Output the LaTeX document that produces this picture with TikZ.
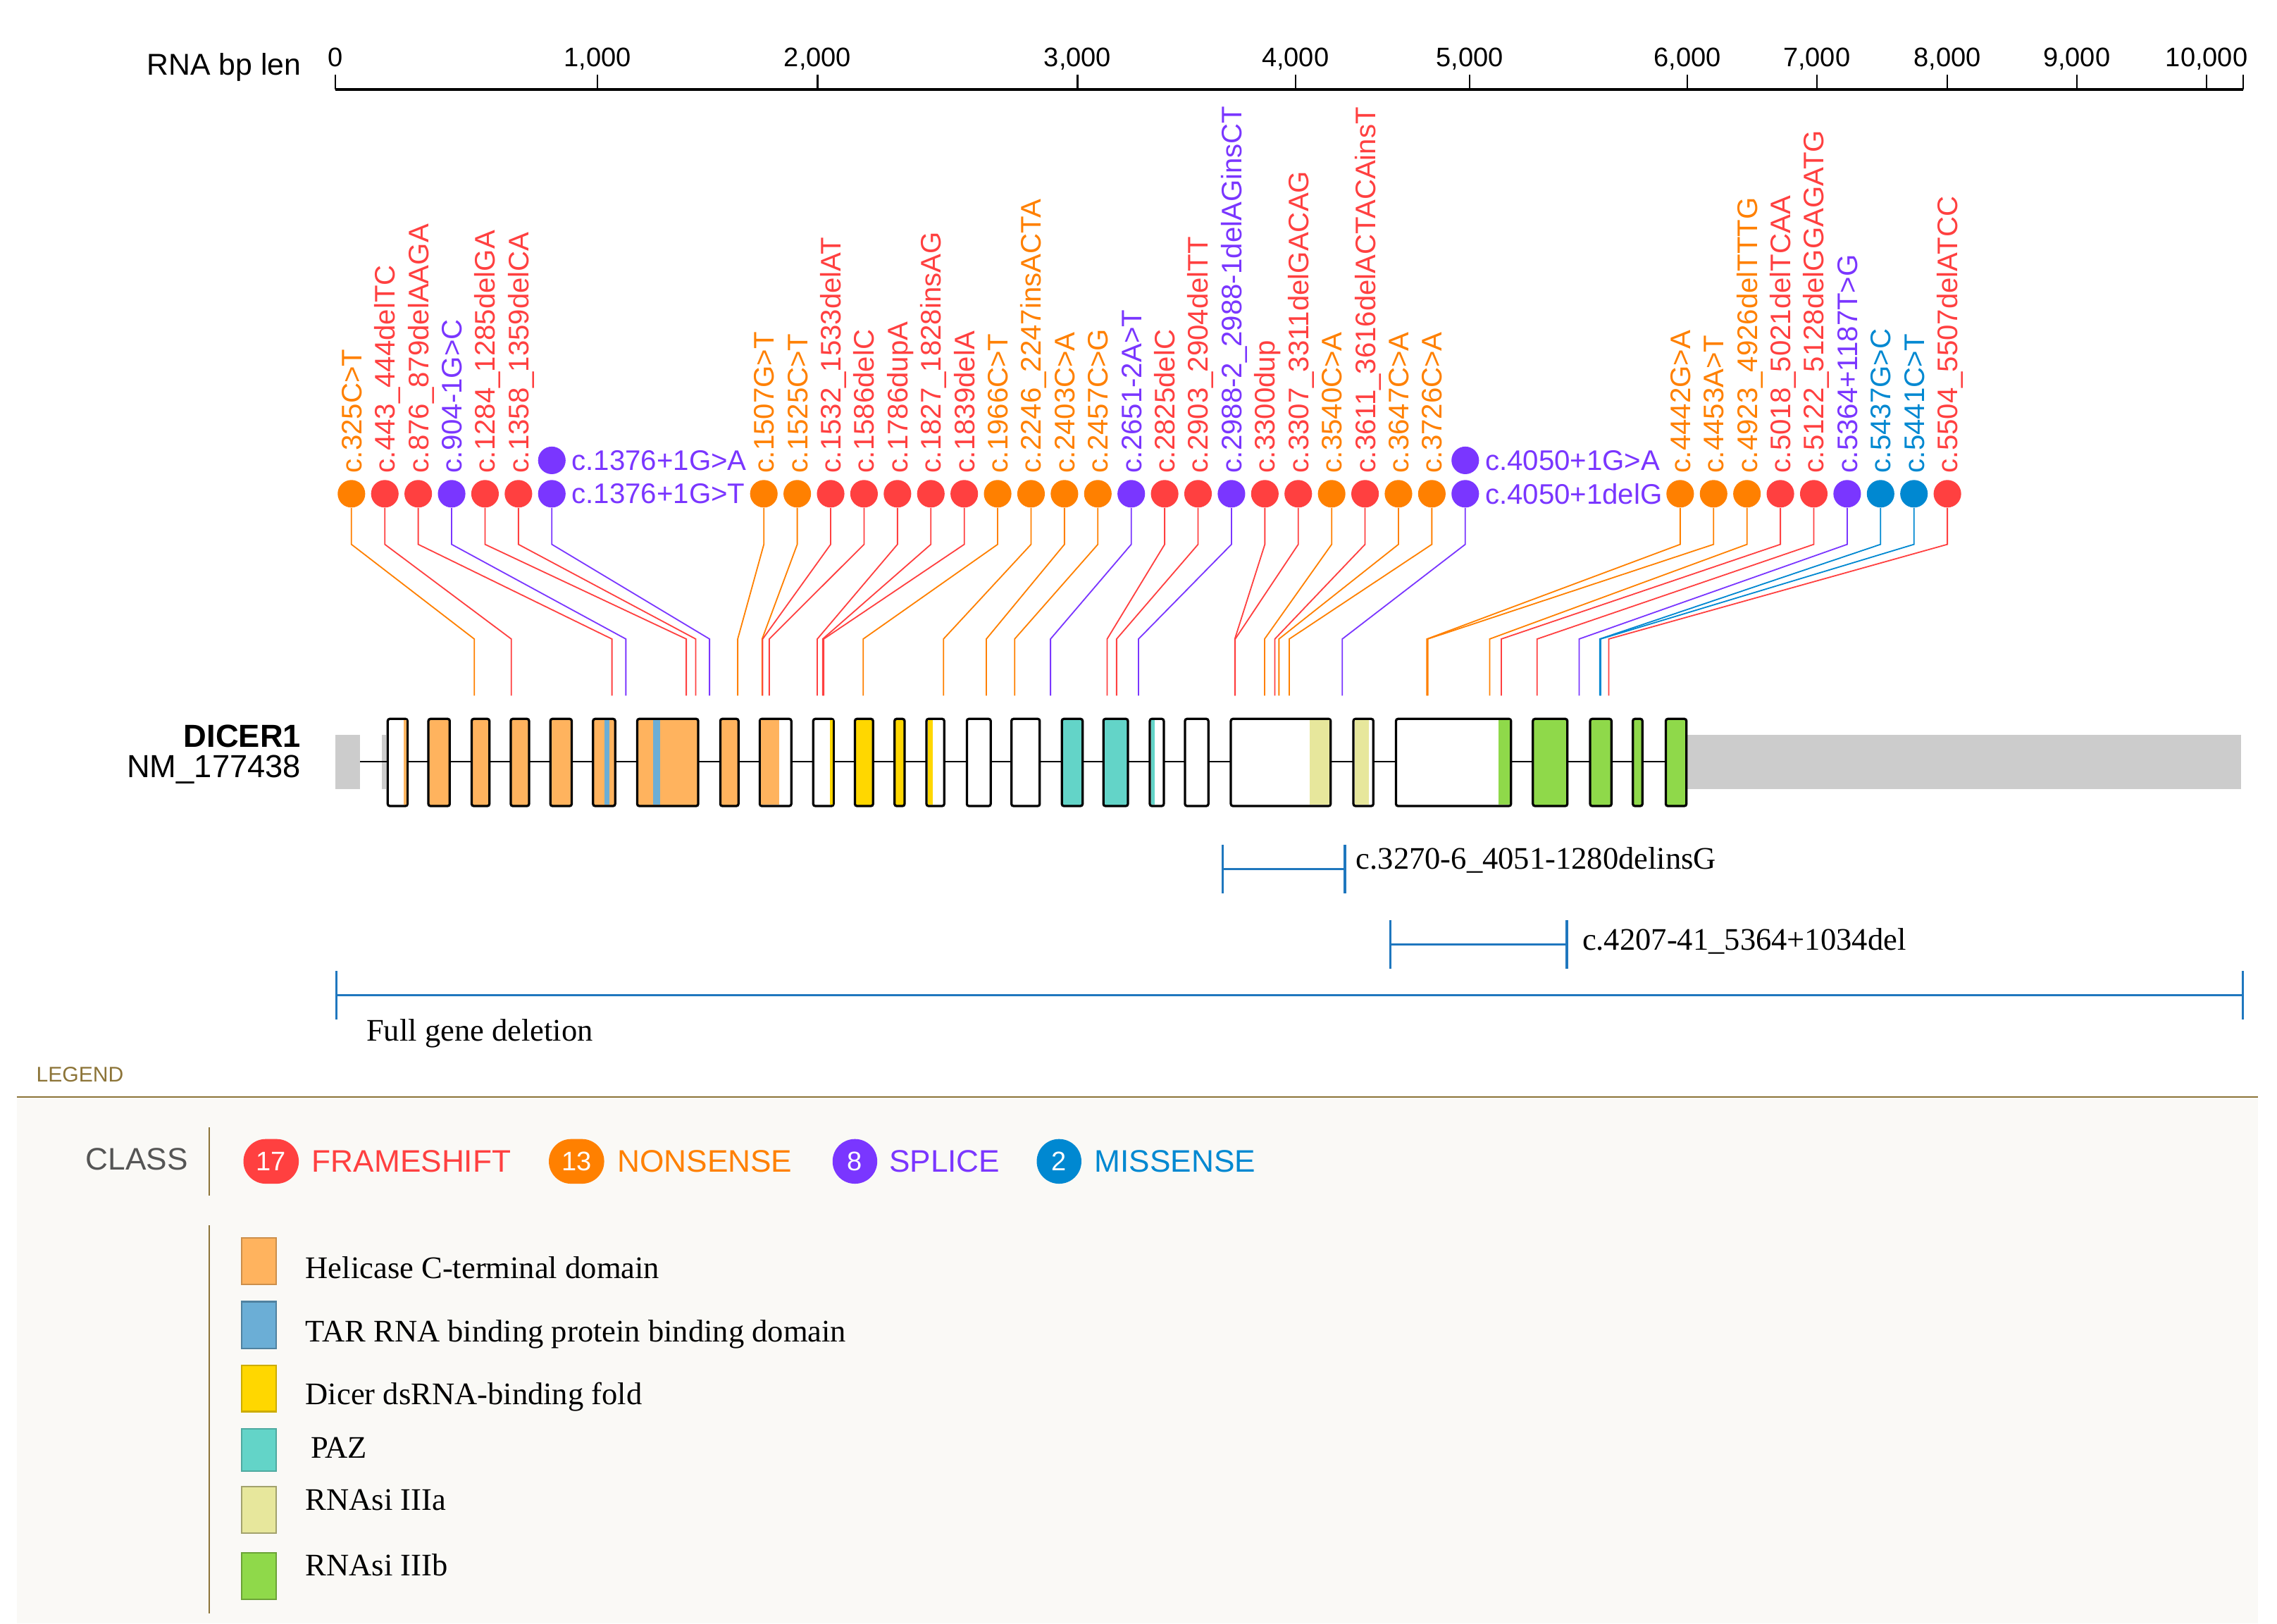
\documentclass[tikz,border=0pt]{standalone}
\usepackage{fontspec}
\setmainfont{Liberation Sans}
\newfontfamily\serifface{Liberation Serif}
\usetikzlibrary{arrows.meta,positioning,calc}
\definecolor{fsColor}{HTML}{FF4040}
\definecolor{nsColor}{HTML}{FF8000}
\definecolor{spColor}{HTML}{7A36FF}
\definecolor{msColor}{HTML}{0088D1}
\definecolor{helColor}{HTML}{FFB35E}
\definecolor{tarColor}{HTML}{6BAED6}
\definecolor{dsrColor}{HTML}{FFD700}
\definecolor{pazColor}{HTML}{63D4C8}
\definecolor{rnaaColor}{HTML}{E7E79C}
\definecolor{rnabColor}{HTML}{8FD94A}
\definecolor{utrColor}{HTML}{CCCCCC}
\definecolor{delColor}{HTML}{1F77BE}
\definecolor{legColor}{HTML}{8C7438}
\definecolor{panelColor}{HTML}{FAF9F6}
\definecolor{classGray}{HTML}{555555}
\tikzset{
	mut dot/.style={circle, minimum size=10.8pt, inner sep=0pt},
	mut label/.style={rotate=90, anchor=base west, inner sep=0pt, font=\fontsize{11.1}{13}\selectfont},
	side label/.style={inner sep=0pt, font=\fontsize{11.1}{13}\selectfont},
	stalk/.style={line width=0.5pt, to path={(\tikztostart.south) -- ++(0,25) -- (\tikztotarget) -- ++(0,39)}},
	exon/.style={draw=black, line width=0.9pt, rounded corners=0.8pt},
	axis lab/.style={anchor=base, inner sep=0pt, font=\fontsize{10.5}{12}\selectfont},
	del bar/.style={delColor, line width=0.9pt, {Bar[width=19pt]}-{Bar[width=19pt]}},
	del label/.style={anchor=base west, inner sep=0pt, font=\serifface\fontsize{12.3}{14}\selectfont},
	badge/.style={rounded corners=8.7pt, minimum height=17.5pt, minimum width=17.5pt, inner xsep=5pt, inner ysep=0pt, text=white, font=\fontsize{10.5}{12}\selectfont},
	class lab/.style={inner sep=0pt, font=\fontsize{12.2}{14}\selectfont},
	swatch/.style={line width=0.6pt}
}
\newcommand{\mutPin}[5]{%
	\node[mut dot, fill=#4] (#1) at (#2,340) {};
	\node[mut label, text=#4] (#1l) at (#2+7,326) {#5};
	\coordinate (#1t) at (#3,440);
	\path (#1) edge[stalk, #4] (#1t);
}
\newcommand{\exonBox}[3]{\draw[exon, fill=#3] (#1,495) rectangle (#2,555);}

\begin{document}
\begin{tikzpicture}[x=0.2mm, y=-0.2mm]
	\useasboundingbox (0,0) rectangle (1568,1118);
	% scale
	\node[anchor=base east, inner sep=0pt, font=\fontsize{11.8}{14}\selectfont] (scalelab) at (207.6,51.8) {RNA bp len};
	\draw[line width=1.1pt] (231,61.5) -- (1544.5,61.5);
	\draw[line width=0.6pt] (231,51.4) -- (231,61.5) (411.6,51.4) -- (411.6,61.5) (563,51.4) -- (563,61.5)
		(742,51.4) -- (742,61.5) (892,51.4) -- (892,61.5) (1012,51.4) -- (1012,61.5) (1162,51.4) -- (1162,61.5)
		(1251,51.4) -- (1251,61.5) (1341,51.4) -- (1341,61.5) (1430,51.4) -- (1430,61.5) (1519.5,51.4) -- (1519.5,61.5)
		(1544.5,51.4) -- (1544.5,61.5);
	\node[axis lab] (ax0) at (231,46) {0};
	\node[axis lab] (ax1) at (411.6,46) {1,000};
	\node[axis lab] (ax2) at (563,46) {2,000};
	\node[axis lab] (ax3) at (742,46) {3,000};
	\node[axis lab] (ax4) at (892,46) {4,000};
	\node[axis lab] (ax5) at (1012,46) {5,000};
	\node[axis lab] (ax6) at (1162,46) {6,000};
	\node[axis lab] (ax7) at (1251,46) {7,000};
	\node[axis lab] (ax8) at (1341,46) {8,000};
	\node[axis lab] (ax9) at (1430,46) {9,000};
	\node[axis lab] (ax10) at (1519.5,46) {10,000};

	% mutations
	\mutPin{c325}{242}{326.6}{nsColor}{c.325C>T}
	\mutPin{c443}{265}{352.1}{fsColor}{c.443\_444delTC}
	\mutPin{c876}{288}{421.4}{fsColor}{c.876\_879delAAGA}
	\mutPin{c904}{311}{431}{spColor}{c.904-1G>C}
	\mutPin{c1284}{334}{472.6}{fsColor}{c.1284\_1285delGA}
	\mutPin{c1358}{357}{479.1}{fsColor}{c.1358\_1359delCA}
	\node[mut dot, fill=spColor] (c1376a) at (380,317) {};
	\node[side label, text=spColor, right=2pt of c1376a] (c1376al) {c.1376+1G>A};
	\node[mut dot, fill=spColor] (c1376t) at (380,340) {};
	\node[side label, text=spColor, right=2pt of c1376t] (c1376tl) {c.1376+1G>T};
	\coordinate (c1376tt) at (488.6,440);
	\path (c1376t) edge[stalk, spColor] (c1376tt);
	\mutPin{c1507}{526}{508}{nsColor}{c.1507G>T}
	\mutPin{c1525}{549}{524.8}{nsColor}{c.1525C>T}
	\mutPin{c1532}{572}{525.2}{fsColor}{c.1532\_1533delAT}
	\mutPin{c1586}{595}{529.7}{fsColor}{c.1586delC}
	\mutPin{c1786}{618}{562.8}{fsColor}{c.1786dupA}
	\mutPin{c1827}{641}{566.5}{fsColor}{c.1827\_1828insAG}
	\mutPin{c1839}{664}{567.2}{fsColor}{c.1839delA}
	\mutPin{c1966}{687}{594.4}{nsColor}{c.1966C>T}
	\mutPin{c2246}{710}{649.7}{nsColor}{c.2246\_2247insACTA}
	\mutPin{c2403}{733}{679.2}{nsColor}{c.2403C>A}
	\mutPin{c2457}{756}{698.7}{nsColor}{c.2457C>G}
	\mutPin{c2651}{779}{723.4}{spColor}{c.2651-2A>T}
	\mutPin{c2825}{802}{762.4}{fsColor}{c.2825delC}
	\mutPin{c2903}{825}{768.9}{fsColor}{c.2903\_2904delTT}
	\mutPin{c2988}{848}{784}{spColor}{c.2988-2\_2988-1delAGinsCT}
	\mutPin{c3300}{871}{850.3}{fsColor}{c.3300dup}
	\mutPin{c3307}{894}{850.6}{fsColor}{c.3307\_3311delGACAG}
	\mutPin{c3540}{917}{870.8}{nsColor}{c.3540C>A}
	\mutPin{c3611}{940}{877.9}{fsColor}{c.3611\_3616delACTACAinsT}
	\mutPin{c3647}{963}{880.7}{nsColor}{c.3647C>A}
	\mutPin{c3726}{986}{887.8}{nsColor}{c.3726C>A}
	\node[mut dot, fill=spColor] (c4050a) at (1009,317) {};
	\node[side label, text=spColor, right=2pt of c4050a] (c4050al) {c.4050+1G>A};
	\node[mut dot, fill=spColor] (c4050d) at (1009,340) {};
	\node[side label, text=spColor, right=2pt of c4050d] (c4050dl) {c.4050+1delG};
	\coordinate (c4050dt) at (924.3,440);
	\path (c4050d) edge[stalk, spColor] (c4050dt);
	\mutPin{c4442}{1157}{982.6}{nsColor}{c.4442G>A}
	\mutPin{c4453}{1180}{983.2}{nsColor}{c.4453A>T}
	\mutPin{c4923}{1203}{1025.8}{nsColor}{c.4923\_4926delTTTG}
	\mutPin{c5018}{1226}{1033.8}{fsColor}{c.5018\_5021delTCAA}
	\mutPin{c5122}{1249}{1058.5}{fsColor}{c.5122\_5128delGGAGATG}
	\mutPin{c5364}{1272}{1087.4}{spColor}{c.5364+1187T>G}
	\mutPin{c5437}{1295}{1101.6}{msColor}{c.5437G>C}
	\mutPin{c5441}{1318}{1102.2}{msColor}{c.5441C>T}
	\mutPin{c5504}{1341}{1107.8}{fsColor}{c.5504\_5507delATCC}

	% gene
	\node[anchor=base east, inner sep=0pt, font=\bfseries\fontsize{12.5}{15}\selectfont] (gname) at (207.5,514.3) {DICER1};
	\node[anchor=base east, inner sep=0pt, font=\fontsize{12.5}{15}\selectfont] (gacc) at (207.5,535.4) {NM\_177438};
	\fill[utrColor] (231,506.2) rectangle (248,543.4);
	\fill[utrColor] (263.1,506.2) rectangle (266,543.4);
	\fill[utrColor] (1161.3,506.2) rectangle (1543,543.4);
	\draw[line width=0.75pt] (248,524.5) -- (1147,524.5);
	\exonBox{267}{280.6}{white}
	\fill[helColor] (278.2,495.8) rectangle (279.8,554.2);
	\exonBox{295}{309.7}{helColor}
	\exonBox{324.8}{337}{helColor}
	\exonBox{351.7}{364.3}{helColor}
	\exonBox{379}{393.7}{helColor}
	\exonBox{408.4}{423.6}{helColor}
	\fill[tarColor] (416.2,495.8) rectangle (419.7,554.2);
	\exonBox{438.8}{480.8}{helColor}
	\fill[tarColor] (449.6,495.8) rectangle (454.8,554.2);
	\exonBox{496}{508.5}{helColor}
	\exonBox{523.2}{544.9}{white}
	\fill[helColor] (524,495.8) rectangle (536.7,554.2);
	\exonBox{560}{574}{white}
	\fill[dsrColor] (571.3,495.8) rectangle (573.2,554.2);
	\exonBox{588.7}{601.2}{dsrColor}
	\exonBox{616}{622.9}{dsrColor}
	\exonBox{638}{650.2}{white}
	\fill[dsrColor] (638.8,495.8) rectangle (642.4,554.2);
	\exonBox{665.8}{682.2}{white}
	\exonBox{696.5}{716}{white}
	\exonBox{731.2}{745.5}{pazColor}
	\exonBox{759.8}{776.7}{pazColor}
	\exonBox{791.8}{801.4}{white}
	\fill[pazColor] (792.6,495.8) rectangle (795.3,554.2);
	\exonBox{816}{832.1}{white}
	\exonBox{847.6}{916.3}{white}
	\fill[rnaaColor] (902,495.8) rectangle (915.5,554.2);
	\exonBox{932}{945.7}{white}
	\fill[rnaaColor] (932.8,495.8) rectangle (942.4,554.2);
	\exonBox{961.3}{1040.5}{white}
	\fill[rnabColor] (1032,495.8) rectangle (1039.7,554.2);
	\exonBox{1055.6}{1079.3}{rnabColor}
	\exonBox{1095}{1109.7}{rnabColor}
	\exonBox{1124.4}{1131}{rnabColor}
	\exonBox{1147.1}{1161.3}{rnabColor}

	% large deletions
	\draw[del bar] (841.2,598.3) -- (926.9,598.3);
	\node[del label] (del1) at (933.5,598.3) {c.3270-6\_4051-1280delinsG};
	\draw[del bar] (956.8,650.2) -- (1079.7,650.2);
	\node[del label] (del2) at (1089.3,654.2) {c.4207-41\_5364+1034del};
	\draw[del bar] (231,685.4) -- (1545.3,685.4);
	\node[del label] (del3) at (252,717) {Full gene deletion};

	% legend
	\node[anchor=base west, inner sep=0pt, text=legColor, font=\fontsize{8.3}{10}\selectfont] (legend) at (24.7,745) {LEGEND};
	\fill[panelColor] (11.7,756) rectangle (1555,1118);
	\draw[legColor, line width=0.75pt] (11.7,755.3) -- (1555,755.3);
	\node[anchor=base west, class lab, text=classGray] (classlab) at (58.8,805.5) {CLASS};
	\draw[legColor, line width=0.6pt] (144,776.3) -- (144,823.2);
	\node[badge, fill=fsColor] (nfs) at (186.7,799.7) {17};
	\node[class lab, text=fsColor, right=4.8pt of nfs] (tfs) {FRAMESHIFT};
	\node[badge, fill=nsColor] (nns) at (397,799.7) {13};
	\node[class lab, text=nsColor, right=4.8pt of nns] (tns) {NONSENSE};
	\node[badge, fill=spColor] (nsp) at (588.7,799.7) {8};
	\node[class lab, text=spColor, right=4.3pt of nsp] (tsp) {SPLICE};
	\node[badge, fill=msColor] (nms) at (729.3,799.7) {2};
	\node[class lab, text=msColor, right=4.8pt of nms] (tms) {MISSENSE};
	\draw[legColor, line width=0.6pt] (143.9,843.7) -- (143.9,1111);
	\draw[swatch, fill=helColor, draw=helColor!80!black] (166.4,852.4) rectangle (190.2,884.3);
	\node[del label] (lhel) at (210.1,880.5) {Helicase C-terminal domain};
	\draw[swatch, fill=tarColor, draw=tarColor!75!black] (166.4,896.3) rectangle (190.2,928.6);
	\node[del label] (ltar) at (210.1,924) {TAR RNA binding protein binding domain};
	\draw[swatch, fill=dsrColor, draw=dsrColor!80!black] (166.4,940.2) rectangle (190.2,972);
	\node[del label] (ldsr) at (210.1,967) {Dicer dsRNA-binding fold};
	\draw[swatch, fill=pazColor, draw=pazColor!80!black] (166.4,984) rectangle (190.2,1013.1);
	\node[del label] (lpaz) at (213.6,1004) {PAZ};
	\draw[swatch, fill=rnaaColor, draw=rnaaColor!70!black] (166.4,1023.6) rectangle (190.2,1055.5);
	\node[del label] (lrnaa) at (210.1,1040) {RNAsi IIIa};
	\draw[swatch, fill=rnabColor, draw=rnabColor!75!black] (166.4,1069.4) rectangle (190.2,1101.3);
	\node[del label] (lrnab) at (210.1,1085) {RNAsi IIIb};
\end{tikzpicture}
\end{document}
